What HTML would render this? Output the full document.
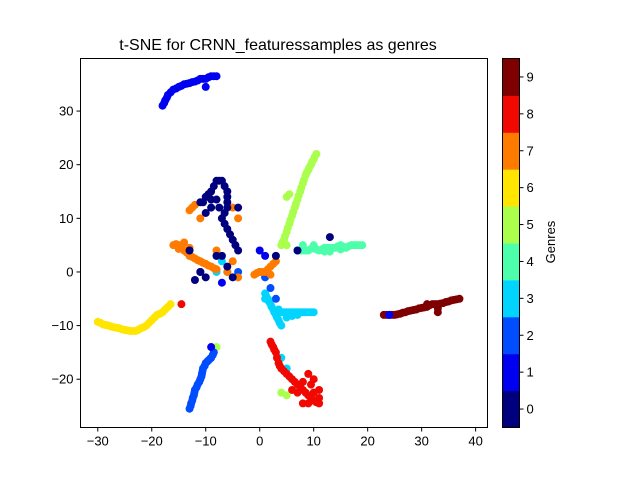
<!DOCTYPE html>
<html><head><meta charset="utf-8"><style>
body{margin:0;background:#fff;font-family:"Liberation Sans",sans-serif;}
svg text{font-family:"Liberation Sans",sans-serif;}
</style></head><body>
<svg id="chart" width="640" height="480" xmlns="http://www.w3.org/2000/svg">
<rect width="640" height="480" fill="#fff"/>
<text x="278" y="50" font-size="16" text-anchor="middle">t-SNE for CRNN_featuressamples as genres</text>
<g id="points"></g>
<rect x="80.5" y="58.5" width="407" height="369" fill="none" stroke="#000" stroke-width="1"/>
<g id="xticks"></g>
<g id="yticks"></g>
<g id="cbar"></g>
<text x="555" y="242" font-size="13" text-anchor="middle" transform="rotate(-90 555 242)">Genres</text>
</svg>
<script>
const genreColors = ["#00007f","#0000f1","#004cff","#00d4ff","#4dffaa","#aaff4d","#ffe500","#ff7b00","#f10800","#7f0000"];
const xTickLabels = [-30,-20,-10,0,10,20,30,40];
const yTickLabels = [-20,-10,0,10,20,30];
const cbarLabels = [0,1,2,3,4,5,6,7,8,9];
const g7 = [[-16,5],[-15.5,5.2],[-15,5],[-14.5,4.6],[-14,4],[-13.5,3.6],[-13,3],[-12.5,2.8],[-12,2.5],[-11.5,2.2],[-11,2],[-10.5,1.7],[-10,1.5],[-9.5,1.2],[-9,1],[-8.5,0.7],[-8,0.5],[-12,12.5],[-12.5,12],[-13,11.5],[-11,10],[-8,4],[-5,2],[-4,-1],[-1,-0.5],[-0.5,-0.2],[0,0],[0.5,0],[1,0],[1.5,0.5],[2,1],[2.5,1.5],[3,2],[-5,12],[-4,10],[2,-0.5],[-14,5.5],[-6,0],[-15,4.3],[-13,4.5]];
const g0 = [[-10,14],[-9.5,14.5],[-9,15],[-8.5,16],[-8,17],[-7.5,17],[-7,17],[-6.5,16],[-6,15],[-6,14],[-6,13],[-6,12],[-6.5,11],[-7,10],[-6.5,9],[-6,8],[-5.5,7],[-5,6],[-4.5,5],[-4,4],[-9,12],[-10,11],[-11,13],[-4,12],[-13,4],[-11,0],[-8,3],[-6,1],[-5,-1],[-10,-1],[13,6.5],[7,4],[3,3],[-7,3],[-12,-1.5],[-7.5,12],[-8,13.5],[-10.5,13],[-9,13.5]];
const g1 = [[-18,31],[-17.7,31.5],[-17.5,32],[-17.2,32.5],[-17,33],[-16.5,33.5],[-16,34],[-15.5,34.2],[-15,34.5],[-14.5,34.7],[-14,35],[-13.5,35.1],[-13,35.2],[-12.5,35.4],[-12,35.5],[-11.5,35.7],[-11,36],[-10.5,36],[-10,36],[-9.5,36.3],[-9,36.5],[-8.5,36.5],[-8,36.5],[-10,34.5],[0,4],[1,3],[-11,0],[-7,-2],[-9,-14],[24,-8]];
const g2 = [[-13,-25.5],[-12.8,-25],[-12.7,-24.5],[-12.5,-24],[-12.4,-23.5],[-12.2,-23],[-12.1,-22.5],[-12,-22],[-11.7,-21.5],[-11.5,-21],[-11.2,-20.5],[-11,-20],[-10.8,-19.5],[-10.7,-19],[-10.6,-18.5],[-10.5,-18],[-10.2,-17.5],[-10,-17],[-9.7,-16.7],[-9.5,-16.5],[-9.2,-16.2],[-9,-16],[-8.7,-15.5],[-8.5,-15],[2,-3],[1,-1],[0,0],[-4,0],[3,-5]];
const g3 = [[1,-4],[1.2,-4.5],[1.5,-5],[1.7,-5.5],[2,-6],[2.2,-6.5],[2.5,-7],[2.7,-7.5],[3,-8],[3.2,-8.5],[3.5,-9],[3.7,-9.5],[4,-10],[4,-7.5],[4.5,-7.5],[5,-7.5],[5.5,-7.5],[6,-7.5],[6.5,-7.5],[7,-7.5],[7.5,-7.5],[8,-7.5],[8.5,-7.5],[9,-7.5],[9.5,-7.5],[10,-7.5],[5,-8.5],[7,-8],[4,-16],[5,-18],[1,-5],[-8,3],[-7,2],[-8,0],[-6,0],[3.5,-7],[6,-8.2]];
const g4 = [[7,4],[7.5,4],[8,4],[8.5,4],[9,4],[9.5,4.3],[10,4.5],[10.5,4.2],[11,4],[11.5,4.2],[12,4.5],[12.5,4.5],[13,4.5],[13.5,4.5],[14,4.5],[14.5,4.8],[15,5],[15.5,4.7],[16,4.5],[16.5,4.8],[17,5],[17.5,5],[18,5],[18.5,5],[19,5],[10,5],[8,5],[13,3.8],[15,4.2],[12,3.8]];
const g5 = [[4,5],[4.2,5.5],[4.5,6],[4.7,6.7],[5,7.5],[5.2,8.2],[5.5,9],[5.7,9.7],[6,10.5],[6.2,11.2],[6.5,12],[6.7,12.7],[7,13.5],[7.2,14.2],[7.5,15],[7.7,15.7],[8,16.5],[8.2,17.2],[8.5,18],[8.7,18.5],[9,19],[9.2,19.5],[9.5,20],[9.7,20.5],[10,21],[10.2,21.5],[10.5,22],[5,14],[-8,-14],[5,-23],[4,-22.5],[5,5],[5.5,14.5]];
const g6 = [[-30,-9.3],[-29.5,-9.5],[-29,-9.8],[-28.5,-9.9],[-28,-10],[-27.5,-10.2],[-27,-10.3],[-26.5,-10.4],[-26,-10.5],[-25.5,-10.7],[-25,-10.8],[-24.5,-10.9],[-24,-11],[-23.5,-11],[-23,-11],[-22.5,-10.8],[-22,-10.5],[-21.5,-10.3],[-21,-10],[-20.5,-9.5],[-20,-9],[-19.5,-8.5],[-19,-8],[-18.5,-7.8],[-18,-7.5],[-17.5,-7],[-17,-6.5],[-16.5,-6]];
const g8 = [[2,-13],[2.2,-13.5],[2.5,-14],[2.7,-14.5],[3,-15],[3.2,-16],[3.5,-17],[3.7,-17.5],[4,-18],[4.5,-18.5],[5,-19],[5.5,-19.5],[6,-20],[6.5,-20.5],[7,-21],[7.5,-21.5],[8,-22],[8.5,-22.5],[9,-23],[9.5,-23.5],[10,-24],[10.5,-24.3],[11,-24.5],[10,-20],[9,-19],[8,-24.5],[9,-24.5],[11,-22],[10,-22.5],[11,-23.5],[6,-22],[-14.5,-6],[8,-20.5],[9.5,-21],[7,-22.5]];
const g9 = [[23,-8],[23.5,-8],[24,-8],[24.5,-8],[25,-8],[25.5,-7.9],[26,-7.8],[26.5,-7.6],[27,-7.5],[27.5,-7.3],[28,-7.2],[28.5,-7.1],[29,-7],[29.5,-6.8],[30,-6.7],[30.5,-6.6],[31,-6.5],[31.5,-6.2],[32,-6],[32.5,-6],[33,-6],[33.5,-5.9],[34,-5.8],[34.5,-5.6],[35,-5.5],[35.5,-5.3],[36,-5.2],[36.5,-5.1],[37,-5],[33,-7.5],[31,-6],[33,-6.8]];
const seriesByGenre = [g0,g1,g2,g3,g4,g5,g6,g7,g8,g9];
const drawOrder = [6,9,4,5,3,2,1,8,7,0];

const NS="http://www.w3.org/2000/svg";
const X0=80.5,X1=487.5,Y0=58.5,Y1=427.5;
const xMin=-33.2,xMax=42.2,yMin=-29.0,yMax=39.8;
function sx(v){return X0+(v-xMin)/(xMax-xMin)*(X1-X0);}
function sy(v){return Y1-(v-yMin)/(yMax-yMin)*(Y1-Y0);}
function mk(tag,attrs,parent){const e=document.createElementNS(NS,tag);for(const k in attrs)e.setAttribute(k,attrs[k]);parent.appendChild(e);return e;}

const pts=document.getElementById('points');
drawOrder.forEach(gi=>{
  seriesByGenre[gi].forEach(p=>{
    const c=mk('circle',{cx:sx(p[0]),cy:sy(p[1]),r:4,fill:genreColors[gi]},pts);
    
    
  });
});
const xt=document.getElementById('xticks');
xTickLabels.forEach(v=>{
  const x=sx(v);
  const l=mk('line',{x1:x,x2:x,y1:Y1,y2:Y1+4,stroke:'#000'},xt);
  
  
  const t=mk('text',{x:x,y:Y1+18,'font-size':13,'text-anchor':'middle'},xt);
  t.textContent=v<0?'\u2212'+(-v):v;
  
  
});
const yt=document.getElementById('yticks');
yTickLabels.forEach(v=>{
  const y=sy(v);
  const l=mk('line',{x1:X0-4,x2:X0,y1:y,y2:y,stroke:'#000'},yt);
  
  
  const t=mk('text',{x:X0-7,y:y+4.5,'font-size':13,'text-anchor':'end'},yt);
  t.textContent=v<0?'\u2212'+(-v):v;
  
  
});
const cb=document.getElementById('cbar');
const CX=502.5,CW=17,h=(Y1-Y0)/cbarLabels.length;
cbarLabels.forEach((v,i)=>{
  const y=Y1-(i+1)*h;
  const r=mk('rect',{x:CX,y:y,width:CW,height:h+0.5,fill:genreColors[i]},cb);
  
  
  const l=mk('line',{x1:CX+CW,x2:CX+CW+4,y1:y+h/2,y2:y+h/2,stroke:'#000'},cb);
  
  
  const t=mk('text',{x:CX+CW+7,y:y+h/2+4.5,'font-size':13},cb);
  t.textContent=v;
  
  
});
const fr=mk('rect',{x:CX,y:Y0,width:CW,height:Y1-Y0,fill:'none',stroke:'#000'},cb);


</script>
</body></html>
